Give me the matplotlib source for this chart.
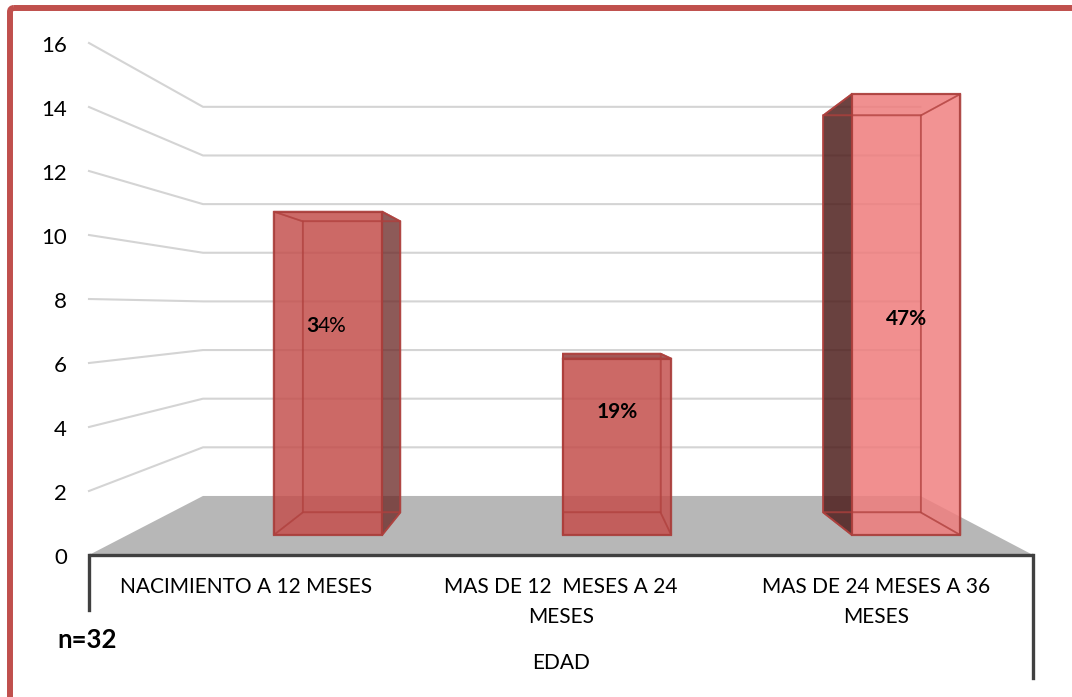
import matplotlib.pyplot as plt
from matplotlib.patches import Polygon, FancyBboxPatch

# data
categories = ["NACIMIENTO A 12 MESES", "MAS DE 12  MESES A 24\nMESES", "MAS DE 24 MESES A 36\nMESES"]
counts = [11, 6, 15]
pct_labels = ["34%", "19%", "47%"]
y_ticks = [0, 2, 4, 6, 8, 10, 12, 14, 16]
axis_title = "EDAD"
note = "n=32"

plt.rcParams["font.family"] = ["Lato", "DejaVu Sans"]

# perspective set-up (screen pixels)
VX, VY = 564.0, 309.0          # vanishing point
X0, CAT_W = 89.0, 314.67       # front plane: x of category 0, width per category
Y0, UNIT = 555.0, 32.0         # front plane: y of value 0, pixels per unit
S_BACK = 0.76                  # depth scale of back wall
S_BAR_FRONT, S_BAR_BACK = 0.919, 0.827
BAR_OFF, BAR_HALF = 0.693, 0.1875


def proj(cx, v, s):
    x = X0 + CAT_W * cx
    y = Y0 - UNIT * v
    return VX + s * (x - VX), VY + s * (y - VY)


fig = plt.figure(figsize=(10.72, 6.97), dpi=100)
ax = fig.add_axes([0, 0, 1, 1])
ax.set_xlim(0, 1072)
ax.set_ylim(697, 0)
ax.axis("off")

# outer frame
ax.add_patch(FancyBboxPatch((10, 8), 1200, 900, boxstyle="round,pad=0,rounding_size=4",
                            fill=False, ec="#C0504D", lw=4.3, zorder=1))

ncat = len(categories)

# floor
floor = [proj(0, 0, 1), proj(ncat, 0, 1), proj(ncat, 0, S_BACK), proj(0, 0, S_BACK)]
ax.add_patch(Polygon(floor, closed=True, fc="#B7B7B7", ec="none", zorder=2))

# gridlines (side wall + back wall)
for t in y_ticks[1:]:
    p1 = proj(0, t, 1)
    p2 = proj(0, t, S_BACK)
    p3 = proj(ncat, t, S_BACK)
    ax.plot([p1[0], p2[0], p3[0]], [p1[1], p2[1], p3[1]], color="#D4D4D4", lw=1.5, zorder=2)

# tick labels
for t in y_ticks:
    x, y = proj(0, t, 1)
    ax.text(x - 22, y + 3, str(t), ha="right", va="center", fontsize=16, color="#000000")

# front axis line and separators
fx0, fy0 = proj(0, 0, 1)
fx1, fy1 = proj(ncat, 0, 1)
ax.plot([fx0, fx1], [fy0, fy1], color="#404040", lw=2.4, zorder=3, solid_capstyle="butt")
ax.plot([fx0, fx0], [fy0, fy0 + 55], color="#404040", lw=2.4, zorder=3)
ax.plot([fx1, fx1], [fy1, fy1 + 123], color="#404040", lw=2.4, zorder=3)

# bars
front_colors = ["#C4504D", "#C4504D", "#F07E7E"]
label_y = [326, 412, 319]
for i, v in enumerate(counts):
    c0 = i + BAR_OFF - BAR_HALF
    c1 = i + BAR_OFF + BAR_HALF

    def face(pts):
        return [proj(cx, vv, s) for cx, vv, s in pts]

    fb, bb = S_BAR_FRONT, S_BAR_BACK
    back = face([(c0, 0, bb), (c1, 0, bb), (c1, v, bb), (c0, v, bb)])
    left = face([(c0, 0, fb), (c0, 0, bb), (c0, v, bb), (c0, v, fb)])
    right = face([(c1, 0, fb), (c1, 0, bb), (c1, v, bb), (c1, v, fb)])
    top = face([(c0, v, fb), (c1, v, fb), (c1, v, bb), (c0, v, bb)])
    bottom = face([(c0, 0, fb), (c1, 0, fb), (c1, 0, bb), (c0, 0, bb)])
    front = face([(c0, 0, fb), (c1, 0, fb), (c1, v, fb), (c0, v, fb)])

    ec = "#A8403D"
    ax.add_patch(Polygon(back, fc="#C0504D", alpha=0.12, ec="none", zorder=4))
    ax.add_patch(Polygon(bottom, fc="#C0504D", alpha=0.12, ec="none", zorder=4))
    if proj(c1, 0, fb)[0] < VX:
        ax.add_patch(Polygon(right, fc="#6A2A28", alpha=0.75, ec=ec, lw=1.3, zorder=5))
    else:
        ax.add_patch(Polygon(left, fc="#4A1C1A", alpha=0.82, ec=ec, lw=1.3, zorder=5))
    top_seen = proj(c0, v, bb)[1] < proj(c0, v, fb)[1]
    ax.add_patch(Polygon(top, fc="#8E3432", alpha=0.8 if top_seen else 0.08,
                         ec=ec, lw=1.3, zorder=5))
    ax.add_patch(Polygon(front, fc=front_colors[i], alpha=0.84, ec="#A33B38", lw=1.6, zorder=6))

    # hidden edges seen through the transparent front
    for poly in (back, bottom, left, right, top):
        ax.add_patch(Polygon(poly, fill=False, ec="#B0403D", lw=1.2, alpha=0.55, zorder=6.5))

    # percentage label
    lx, _ = proj(i + BAR_OFF, 0, fb)
    if i == 0:
        ax.text(lx - 22, label_y[i], pct_labels[i][0], ha="left", va="center", fontsize=15,
                fontweight="bold", zorder=7)
        ax.text(lx - 10, label_y[i], pct_labels[i][1:], ha="left", va="center", fontsize=15,
                zorder=7)
    else:
        ax.text(lx, label_y[i], pct_labels[i], ha="center", va="center", fontsize=15,
                fontweight="bold", zorder=7)

# category labels
for i, lab in enumerate(categories):
    cx, _ = proj(i + 0.5, 0, 1)
    ax.text(cx, 577, lab, ha="center", va="top", fontsize=15, linespacing=1.65)

ax.text(561, 663, axis_title, ha="center", va="center", fontsize=15)
ax.text(57, 640, note, ha="left", va="center", fontsize=18.5, fontweight="bold")

fig.savefig("out.png", dpi=100)
